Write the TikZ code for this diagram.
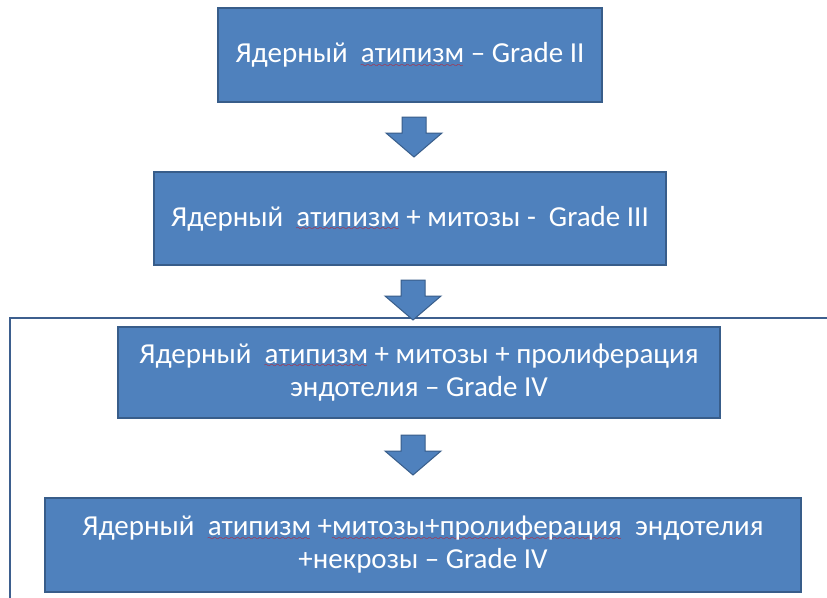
\documentclass[tikz,border=0pt]{standalone}
\usepackage{fontspec}
\setmainfont{Carlito}
\definecolor{boxfill}{HTML}{4F81BD}
\definecolor{boxedge}{HTML}{385D8A}
\definecolor{frameedge}{HTML}{3D5F8E}
% red wavy underline, as a spell checker marks a word
\font\wavyfont=lasy8
\newcommand\spellwave[1]{\setbox0\hbox{#1}\leavevmode
  \rlap{\textcolor{red!90!black}{\lower4.5pt\hbox to\wd0{\leaders\hbox{\wavyfont\char58}\hfil}}}\box0\relax}

\begin{document}
\begin{tikzpicture}[x=1pt,y=-1pt,
  stage/.style={draw=boxedge, line width=1.5pt, fill=boxfill, text=white,
    font=\fontsize{29}{33}\selectfont, align=center, inner sep=0pt},
  downarrow/.pic={\draw[draw=boxedge, line width=1pt, fill=boxfill]
    (-12,0) -- (12,0) -- (12,16) -- (28,16) -- (0,40) -- (-28,16) -- (-12,16) -- cycle;}
]
\fill[white] (0,0) rectangle (827,597);
\useasboundingbox (0,0) rectangle (827,597);

% outer frame around the Grade IV part
\draw[frameedge, line width=2pt] (10,600) -- (10,318) -- (830,318);

\node[stage, minimum width=384pt, minimum height=94pt] (g2) at (410,55)
  {Ядерный~ \spellwave{атипизм} – Grade II};
\node[stage, minimum width=512pt, minimum height=93pt] (g3) at (410,218.5)
  {Ядерный~ \spellwave{атипизм} + митозы -~ Grade III};
\node[stage, minimum width=602pt, minimum height=91pt] (g4a) at (419,372.5)
  {Ядерный~ \spellwave{атипизм} + митозы + пролиферация\\эндотелия – Grade IV};
\node[stage, minimum width=756pt, minimum height=94pt] (g4b) at (423,545)
  {Ядерный~ \spellwave{атипизм} +\spellwave{митозы+пролиферация}~ эндотелия\\+некрозы – Grade IV};

% block arrows between the stages
\pic at (414,117) {downarrow};
\pic at (413,280) {downarrow};
\pic at (413,435) {downarrow};
\end{tikzpicture}
\end{document}
